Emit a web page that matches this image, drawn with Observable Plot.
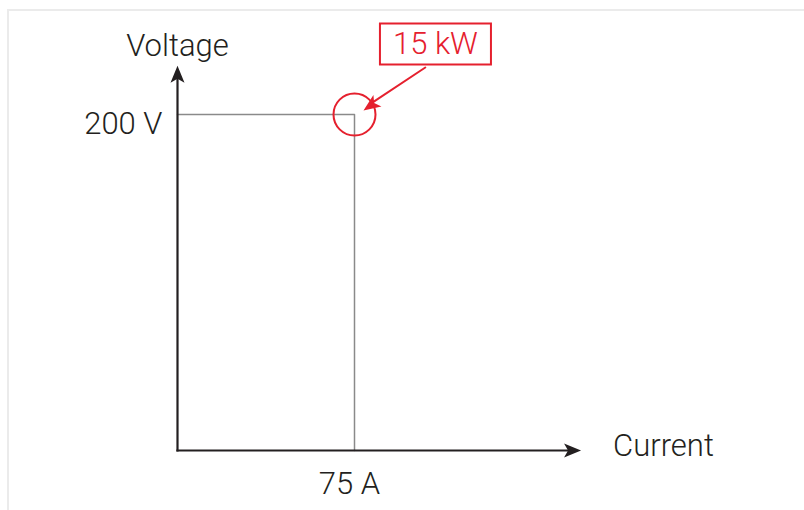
<!DOCTYPE html>
<html><head><meta charset="utf-8">
<script src="https://cdn.jsdelivr.net/npm/d3@7"></script>
<script src="https://cdn.jsdelivr.net/npm/@observablehq/plot@0.6"></script>
<style>
html,body{margin:0;padding:0;background:#fff;}
#wrap{position:relative;width:804px;height:510px;overflow:hidden;}
#frame{position:absolute;left:7px;top:9px;right:-10px;bottom:-10px;border-top:2px solid #ebebeb;border-left:2px solid #ebebeb;pointer-events:none;}
#wrap svg{position:absolute;left:0;top:0;}
</style></head><body>
<div id="wrap"><div id="frame"></div></div>
<script>
// Data
const axisTitles = ["Current", "Voltage"];
const axisEnds = [171, 229];          // extent of the axis arrows (A, V)
const ratedCurrent = 75;              // A
const ratedVoltage = 200;             // V
const tickLabels = ["75 A", "200 V"];
const powerLabel = "15 kW";
const labelPos = [109.3, 242];        // annotation box centre (A, V)
const arrowFrom = [105, 228];         // annotation arrow start (A, V)

const INK = "#231f20", GRID = "#8a8a8a", RED = "#e5202e";
const head = {draw(ctx){ctx.moveTo(0,0);ctx.lineTo(7,17);ctx.lineTo(0,13);ctx.lineTo(-7,17);ctx.closePath();}};
const box = {draw(ctx){ctx.moveTo(-55.5,-20.5);ctx.lineTo(55.5,-20.5);ctx.lineTo(55.5,20.5);ctx.lineTo(-55.5,20.5);ctx.closePath();}};
const font = {fontFamily: "Roboto, 'Liberation Sans', sans-serif", fontSize: 31, fontWeight: 300};

const corner = [[0, ratedVoltage], [ratedCurrent, ratedVoltage], [ratedCurrent, 0]];
const axes = [
  {x1: 0, y1: 0, x2: 0, y2: axisEnds[1]},
  {x1: 0, y1: 0, x2: axisEnds[0], y2: 0}
];
const heads = [
  {x: 0, y: axisEnds[1], r: 0},
  {x: axisEnds[0], y: 0, r: 90}
];

const chart = Plot.plot({
  width: 804, height: 510,
  marginLeft: 177, marginRight: 155, marginTop: 30, marginBottom: 60,
  x: {domain: [0, 200], axis: null},
  y: {domain: [0, 250], axis: null},
  style: {background: "transparent", overflow: "visible"},
  marks: [
    Plot.line(corner, {x: d => d[0], y: d => d[1], stroke: GRID, strokeWidth: 1.5}),
    Plot.arrow(axes, {x1: "x1", y1: "y1", x2: "x2", y2: "y2", headLength: 0, insetEnd: 8,
      stroke: INK, strokeWidth: 2.2, strokeLinecap: "square"}),
    Plot.dot(heads, {x: "x", y: "y", rotate: "r", symbol: head, fill: INK, stroke: "none"}),
    // annotation
    Plot.dot([corner[1]], {x: d => d[0], y: d => d[1], r: 21, stroke: RED, strokeWidth: 2, fill: "none"}),
    Plot.arrow([{x1: arrowFrom[0], y1: arrowFrom[1], x2: ratedCurrent, y2: ratedVoltage}],
      {x1: "x1", y1: "y1", x2: "x2", y2: "y2", headLength: 0, insetEnd: 20, stroke: RED, strokeWidth: 2}),
    Plot.dot([corner[1]], {x: d => d[0], y: d => d[1], dx: 9, dy: -4, rotate: 235, symbol: head, fill: RED, stroke: "none"}),
    Plot.dot([labelPos], {x: d => d[0], y: d => d[1], symbol: box, stroke: RED, strokeWidth: 2, fill: "none"}),
    Plot.text([powerLabel], {x: () => labelPos[0], y: () => labelPos[1], text: d => d, fill: RED, lineAnchor: "middle", textAnchor: "middle", ...font}),
    // axis titles and tick labels
    Plot.text([axisTitles[1]], {x: () => 0, y: () => axisEnds[1], text: d => d, dy: -10, lineAnchor: "bottom", textAnchor: "middle", fill: INK, ...font}),
    Plot.text([axisTitles[0]], {x: () => axisEnds[0], y: () => 0, text: d => d, dx: 32, dy: 5, lineAnchor: "bottom", textAnchor: "start", fill: INK, ...font}),
    Plot.text([tickLabels[1]], {x: () => 0, y: () => ratedVoltage, text: d => d, dx: -15, dy: 19, lineAnchor: "bottom", textAnchor: "end", fill: INK, ...font}),
    Plot.text([tickLabels[0]], {x: () => ratedCurrent, y: () => 0, text: d => d, dx: -5, dy: 43, lineAnchor: "bottom", textAnchor: "middle", fill: INK, ...font})
  ]
});
document.getElementById("wrap").appendChild(chart);
</script>
</body></html>
